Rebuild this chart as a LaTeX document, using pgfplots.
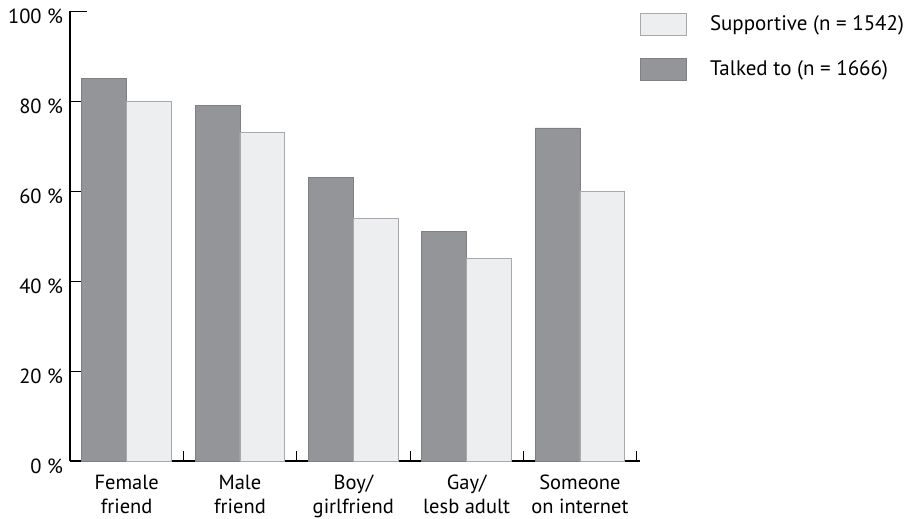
\documentclass[border=0pt]{standalone}
\usepackage{pgfplots}
\pgfplotsset{compat=1.18}
\usepackage{fontspec}
\setmainfont{PT Sans}
\definecolor{darkbar}{HTML}{939598}
\definecolor{lightbar}{HTML}{EDEEF0}
\definecolor{darkedge}{HTML}{7E8083}
\definecolor{lightedge}{HTML}{A7A9AC}
\begin{document}
\fontsize{20.5}{24}\selectfont
\begin{tikzpicture}
\useasboundingbox (0,0) rectangle (907pt,519pt);
\begin{axis}[
  at={(70pt,58pt)}, anchor=south west,
  scale only axis, width=570pt, height=450pt,
  xmin=-0.5, xmax=4.53, ymin=0, ymax=100,
  axis x line=bottom, axis y line=left,
  axis line style={-, black, line width=1.3pt},
  tick align=inside,
  ytick={0,20,40,60,80,100},
  yticklabels={0 \%,20 \%,40 \%,60 \%,80 \%,100 \%},
  yticklabel style={yshift=-5pt, font=\fontsize{20.5}{24}\selectfont},
  major tick length=17pt,
  major y tick style={black, line width=0.8pt},
  xtick={0,1,2,3,4},
  xticklabels={Female\\friend, Male\\friend, Boy/\\girlfriend, Gay/\\lesb adult, Someone\\on internet},
  xticklabel style={align=center, yshift=10pt, font=\fontsize{20.5}{24}\selectfont},
  major x tick style={draw=none},
  extra x ticks={0.5,1.5,2.5,3.5,4.5},
  extra x tick labels={},
  extra x tick style={tick align=inside, major tick length=10pt,
    major x tick style={draw=black, line width=0.8pt}},
  ybar, bar width=0.395,
  reverse legend,
  legend image code/.code={\draw[#1] (0pt,-11pt) rectangle (46pt,11pt);},
  legend style={at={(1,0.996)}, anchor=north west, draw=none, fill=none,
    inner sep=0pt, row sep=22pt, font=\fontsize{21}{24}\selectfont,
    cells={anchor=west},
    /tikz/every even column/.append style={column sep=0pt}},
]
\addplot[bar shift=-0.1975, fill=darkbar, draw=darkedge, line width=0.8pt]
  coordinates {(0,85) (1,79) (2,63) (3,51) (4,74)};
\addlegendentry{\hspace{21pt}Talked to (n = 1666)}
\addplot[bar shift=0.1975, fill=lightbar, draw=lightedge, line width=0.8pt]
  coordinates {(0,80) (1,73) (2,54) (3,45) (4,60)};
\addlegendentry{\hspace{21pt}Supportive (n = 1542)}
\end{axis}
\end{tikzpicture}
\end{document}
